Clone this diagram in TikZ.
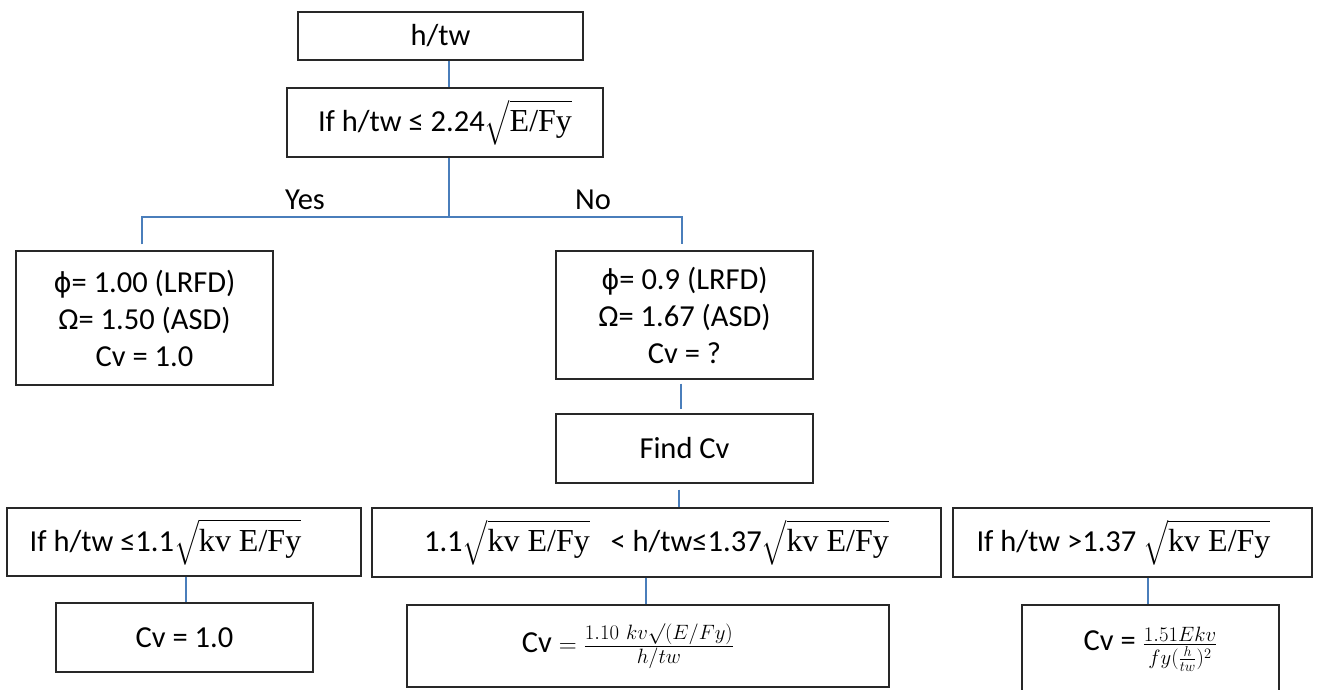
\documentclass[tikz,border=0pt]{standalone}
\usepackage{amsmath}
\usepackage[no-math]{fontspec}
\setmainfont{Carlito}
\newfontfamily\phifont{DejaVu Sans}[Scale=0.9]
\newfontfamily\cmbfont{Liberation Serif}[Scale=1.05]
\usetikzlibrary{calc}
\definecolor{conn}{RGB}{74,126,187}
\definecolor{boxline}{RGB}{40,40,40}
\newcommand{\myphi}{{\phifont ϕ}}
\newcommand{\rt}[1]{$\sqrt{\text{\cmbfont #1}}$}
\begin{document}
\begin{tikzpicture}[x=1pt,y=-1pt,
  box/.style={draw=boxline, line width=1.3pt, rectangle, align=center, inner sep=0pt, font=\fontsize{30.5}{37}\selectfont},
  lbl/.style={inner sep=0pt, font=\fontsize{30.5}{37}\selectfont},
  link/.style={draw=conn, line width=1.5pt}]
\fill[white] (0,0) rectangle (1318,690);
\useasboundingbox (0,0) rectangle (1318,690);

% boxes
\node[box, minimum width=285, minimum height=48] (b1) at (440.5,36) {h/tw};
\node[box, minimum width=316, minimum height=69] (b2) at (445,122.5) {If h/tw ≤ 2.24\rt{E/Fy}};
\node[box, minimum width=257, minimum height=134] (yes) at (144.5,318) {\myphi= 1.00 (LRFD)\\ Ω= 1.50 (ASD)\\ Cv = 1.0};
\node[box, minimum width=257, minimum height=128] (no) at (684.5,315) {\myphi= 0.9 (LRFD)\\ Ω= 1.67 (ASD)\\ Cv = ?};
\node[box, minimum width=257, minimum height=69] (find) at (684.5,448.5) {Find Cv};
\node[box, minimum width=354, minimum height=68] (c1) at (184,542) {If h/tw ≤1.1\rt{kv E/Fy}\hspace{37pt}};
\node[box, minimum width=569, minimum height=69] (c2) at (656.5,542.5) {1.1\rt{kv E/Fy}\ \ \ < h/tw≤1.37\rt{kv E/Fy}};
\node[box, minimum width=359, minimum height=69] (c3) at (1132.5,542.5) {If h/tw >1.37 \rt{kv E/Fy}\hspace{18pt}};
\node[box, minimum width=257, minimum height=69] (r1) at (184.5,637.5) {Cv = 1.0};
\node[box, minimum width=482, minimum height=82] (r2) at (648,646) {Cv $=\frac{1.10\ kv{\surd}(E/Fy)}{h/tw}$\hspace{40pt}};
\node[box, minimum width=257, minimum height=88] (r3) at (1150.5,649) {Cv = $\frac{1.51Ekv}{fy(\frac{h}{tw})^2}$\rule[-12pt]{0pt}{12pt}};

% labels
\node[lbl] (yeslbl) at (305,200) {Yes};
\node[lbl] (nolbl) at (593,200) {No};

% connector x positions
\coordinate (k1) at (449,0);
\coordinate (kL) at (142,0);
\coordinate (kR) at (682,0);
\coordinate (kN) at (681,0);
\coordinate (kF) at (679,0);
\coordinate (kA) at (186,0);
\coordinate (kB) at (646,0);
\coordinate (kC) at (1148,0);
\coordinate (j) at (449,217);

\draw[link] (b1.south -| k1) -- (b2.north -| k1);
\draw[link] (b2.south -| k1) -- (j);
\draw[link] ($(yes.north -| kL)+(0,-6)$) |- (j) -| ($(no.north -| kR)+(0,-6)$);
\draw[link, shorten <=4pt, shorten >=4pt] (no.south -| kN) -- (find.north -| kN);
\draw[link, shorten <=6pt] (find.south -| kF) -- (c2.north -| kF);
\draw[link] (c1.south -| kA) -- (r1.north -| kA);
\draw[link] (c2.south -| kB) -- (r2.north -| kB);
\draw[link] (c3.south -| kC) -- (r3.north -| kC);
\end{tikzpicture}
\end{document}
